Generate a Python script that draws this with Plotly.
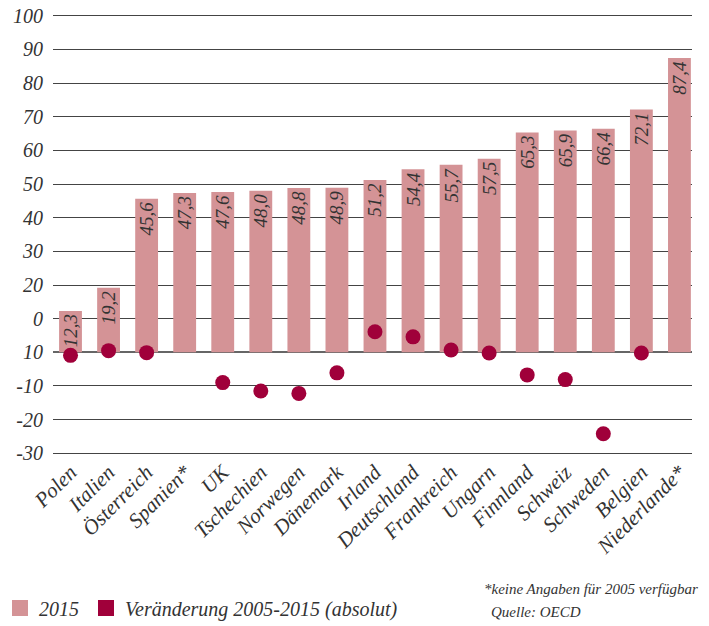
import plotly.graph_objects as go

countries = ["Polen", "Italien", "Österreich", "Spanien*", "UK", "Tschechien", "Norwegen",
             "Dänemark", "Irland", "Deutschland", "Frankreich", "Ungarn", "Finnland",
             "Schweiz", "Schweden", "Belgien", "Niederlande*"]
values_2015 = [12.3, 19.2, 45.6, 47.3, 47.6, 48.0, 48.8, 48.9, 51.2, 54.4, 55.7, 57.5,
               65.3, 65.9, 66.4, 72.1, 87.4]
change_05_15 = [-0.9, 0.5, -0.1, None, -9.0, -11.5, -12.2, -6.1, 6.1, 4.6, 0.7, -0.2,
                -6.7, -8.1, -24.2, -0.2, None]
tick_vals = [100, 90, 80, 70, 60, 50, 40, 30, 20, 10, 0, -10, -20, -30]
tick_text = ["100", "90", "80", "70", "60", "50", "40", "30", "20", "0", "10", "-10", "-20", "-30"]

BAR_COLOR = "#D49396"
DOT_COLOR = "#A0003A"
FONT = "Liberation Serif"

W, H = 709, 626
L, R, T, B = 53, 17, 14, 171
PW, PH = W - L - R, H - T - B


def px_x(px):
    return (px - L) / PW


def px_y(py):
    return (H - B - py) / PH


fig = go.Figure()
fig.add_trace(go.Bar(
    x=countries, y=values_2015,
    marker=dict(color=BAR_COLOR, line=dict(width=0)),
    text=[f"{v:.1f}".replace(".", ",") for v in values_2015],
    textposition="inside", insidetextanchor="end", textangle=-90,
    constraintext="none",
    textfont=dict(family=FONT, size=19, color="#333333", style="italic"),
    showlegend=False, hoverinfo="skip",
))
fig.add_trace(go.Scatter(
    x=countries, y=change_05_15, mode="markers",
    marker=dict(color=DOT_COLOR, size=15, line=dict(width=0)),
    showlegend=False, hoverinfo="skip",
))

# legend (manual)
shapes = []
annotations = []
shapes.append(dict(type="rect", xref="paper", yref="paper",
                   x0=px_x(12), x1=px_x(28), y0=px_y(616), y1=px_y(600),
                   fillcolor=BAR_COLOR, line=dict(width=0)))
shapes.append(dict(type="rect", xref="paper", yref="paper",
                   x0=px_x(98), x1=px_x(114), y0=px_y(616), y1=px_y(600),
                   fillcolor=DOT_COLOR, line=dict(width=0)))
annotations.append(dict(text="2015", xref="paper", yref="paper", x=px_x(37), y=px_y(609),
                        xanchor="left", yanchor="middle", showarrow=False,
                        font=dict(family=FONT, size=20, color="#333333", style="italic")))
annotations.append(dict(text="Veränderung 2005-2015 (absolut)", xref="paper", yref="paper",
                        x=px_x(123), y=px_y(609), xanchor="left", yanchor="middle",
                        showarrow=False,
                        font=dict(family=FONT, size=20, color="#333333", style="italic")))
annotations.append(dict(text="*keine Angaben für 2005 verfügbar", xref="paper", yref="paper",
                        x=px_x(700), y=px_y(589), xanchor="right", yanchor="middle",
                        showarrow=False,
                        font=dict(family=FONT, size=15, color="#333333", style="italic")))
annotations.append(dict(text="Quelle: OECD", xref="paper", yref="paper",
                        x=px_x(489), y=px_y(612), xanchor="left", yanchor="middle",
                        showarrow=False,
                        font=dict(family=FONT, size=15, color="#333333", style="italic")))

fig.update_layout(
    width=W, height=H,
    margin=dict(l=L, r=R, t=T, b=B, autoexpand=False),
    paper_bgcolor="white", plot_bgcolor="white",
    bargap=0.4,
    shapes=shapes, annotations=annotations,
    font=dict(family=FONT, color="#333333", style="italic"),
)
fig.update_xaxes(
    range=[-0.46, 16.33], tickangle=-45, showgrid=False, showline=False, zeroline=False,
    tickfont=dict(family=FONT, size=21, color="#333333", style="italic"),
    ticks="", fixedrange=True,
)
fig.update_yaxes(
    range=[-30.5, 100.5], tickvals=tick_vals, ticktext=tick_text,
    showgrid=True, gridcolor="#444444", gridwidth=1.3,
    zeroline=True, zerolinecolor="#666666", zerolinewidth=1.5,
    showline=False, ticks="", ticklabelstandoff=9,
    tickfont=dict(family=FONT, size=20, color="#333333", style="italic"),
    fixedrange=True,
)

fig.write_html("out.html")
